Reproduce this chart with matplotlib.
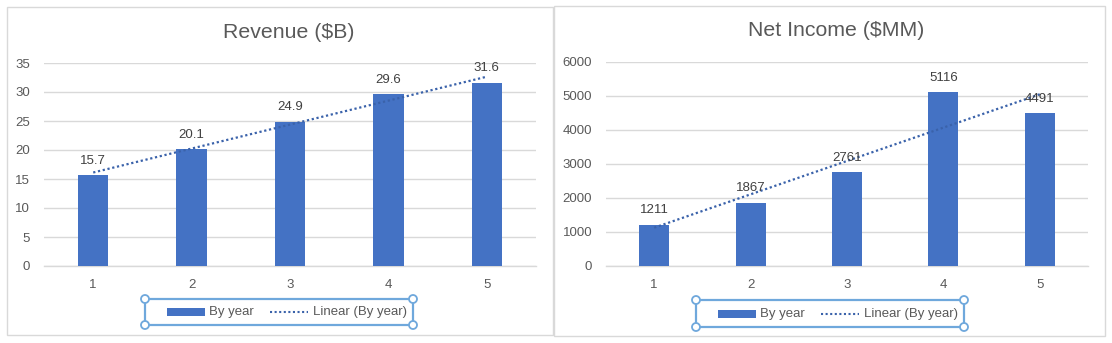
import numpy as np
import matplotlib
matplotlib.use("Agg")
import matplotlib.pyplot as plt
from matplotlib.patches import Rectangle, Ellipse
from matplotlib.lines import Line2D

plt.rcParams['font.family'] = ['Liberation Sans', 'DejaVu Sans']

years = [1, 2, 3, 4, 5]
revenue = [15.7, 20.1, 24.9, 29.6, 31.6]
net_income = [1211, 1867, 2761, 5116, 4491]
revenue_ticks = [0, 5, 10, 15, 20, 25, 30, 35]
income_ticks = [0, 1000, 2000, 3000, 4000, 5000, 6000]

BAR = '#4472C4'
TREND = '#3A62AA'
GRID = '#D9D9D9'
TEXT = '#595959'
LABEL = '#404040'
FRAME = '#6FA8DC'

W, H = 1112, 343
fig = plt.figure(figsize=(W / 100, H / 100), dpi=100)


def px(x0, y0, w, h):
    """Convert pixel box (top-left origin) to figure fractions."""
    return [x0 / W, 1 - (y0 + h) / H, w / W, h / H]


def panel(frame_box, ax_box, title, title_xy, values, ticks, ymax, legend_box, fmt):
    # light panel border
    fx0, fy0, fw, fh = frame_box
    fig.add_artist(Rectangle((fx0 / W, 1 - (fy0 + fh) / H), fw / W, fh / H,
                             transform=fig.transFigure, fill=False,
                             edgecolor=GRID, lw=1.0))

    ax = fig.add_axes(px(*ax_box))
    ax.bar(years, values, width=0.31, color=BAR, zorder=3)

    # linear trend across the categories
    k, b = np.polyfit(years, values, 1)
    xs = np.array([years[0], years[-1]])
    ax.plot(xs, k * xs + b, color=TREND, lw=1.6, linestyle=(0, (1, 1.2)), zorder=4)

    for x, v in zip(years, values):
        ax.annotate(fmt(v), (x, v), xytext=(0, 6), textcoords='offset points',
                    ha='center', va='bottom', fontsize=9.5, color=LABEL, zorder=5)

    ax.set_xlim(0.5, 5.5)
    ax.set_ylim(0, ymax)
    ax.set_yticks(ticks)
    ax.set_xticks(years)
    ax.set_xticklabels([str(y) for y in years])
    ax.yaxis.grid(True, color=GRID, lw=1.0, zorder=0)
    ax.set_axisbelow(True)
    for s in ['top', 'right', 'left']:
        ax.spines[s].set_visible(False)
    ax.spines['bottom'].set_color(GRID)
    ax.spines['bottom'].set_linewidth(1.0)
    ax.tick_params(axis='both', length=0, labelsize=9.5, labelcolor=TEXT)
    ax.tick_params(axis='y', pad=10)
    ax.tick_params(axis='x', pad=9)

    fig.text(title_xy[0] / W, 1 - title_xy[1] / H, title, ha='center', va='center',
             fontsize=15.3, color=TEXT)

    # legend with selection frame
    lx0, ly0, lw_, lh = legend_box
    fig.add_artist(Rectangle((lx0 / W, 1 - (ly0 + lh) / H), lw_ / W, lh / H,
                             transform=fig.transFigure, fill=False,
                             edgecolor=FRAME, lw=1.6, zorder=10))
    for cx, cy in [(lx0, ly0), (lx0 + lw_, ly0), (lx0, ly0 + lh), (lx0 + lw_, ly0 + lh)]:
        fig.add_artist(Ellipse((cx / W, 1 - cy / H), 8 / W, 8 / H,
                               transform=fig.transFigure,
                               facecolor='white', edgecolor=FRAME, lw=1.3, zorder=11))
    cy = 1 - (ly0 + lh / 2) / H
    fig.add_artist(Rectangle(((lx0 + 22) / W, cy - 4 / H), 38 / W, 8 / H,
                             transform=fig.transFigure, facecolor=BAR,
                             edgecolor='none', zorder=11))
    fig.text((lx0 + 64) / W, cy, 'By year', ha='left', va='center',
             fontsize=9.5, color=TEXT, zorder=12)
    fig.add_artist(Line2D([(lx0 + 125) / W, (lx0 + 163) / W], [cy, cy],
                          transform=fig.transFigure, color=TREND, lw=1.5,
                          linestyle=(0, (1, 1.2)), zorder=11))
    fig.text((lx0 + 168) / W, cy, 'Linear (By year)', ha='left', va='center',
             fontsize=9.5, color=TEXT, zorder=12)
    return ax


panel((7, 7, 546, 328), (44, 63, 492, 203), 'Revenue ($B)', (289, 32),
      revenue, revenue_ticks, 35, (145, 299, 268, 26), lambda v: f'{v:.1f}')
panel((554, 6, 551, 330), (606, 62, 482, 204), 'Net Income ($MM)', (836, 31),
      net_income, income_ticks, 6000, (696, 300, 268, 27), lambda v: f'{v:d}')

fig.savefig('out.png', dpi=100, facecolor='white')
